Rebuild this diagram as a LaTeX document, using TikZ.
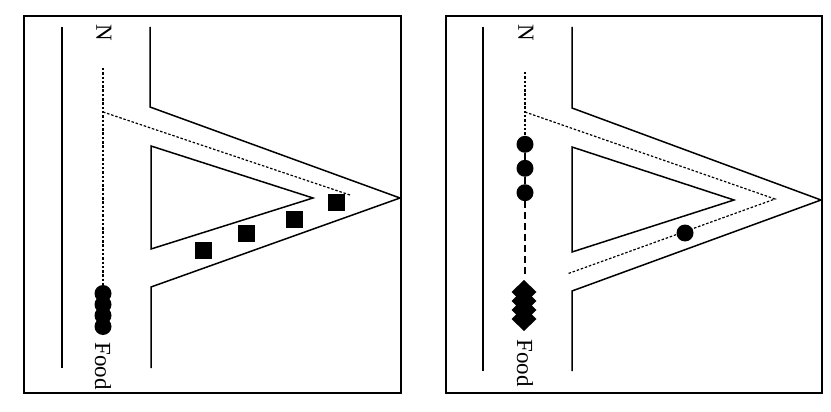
\documentclass[tikz,border=0pt]{standalone}
\usepackage{fontspec}
\setmainfont{Liberation Serif}
\usetikzlibrary{positioning}

\begin{document}
\begin{tikzpicture}[
  x=1pt,y=-1pt,
  arena/.style={draw,line width=1.8pt},
  wall/.style={draw,line width=1.5pt},
  trail/.style={draw,line width=1.2pt,dash pattern=on 2.5pt off 1.8pt},
  strongtrail/.style={draw,line width=2.8pt,dash pattern=on 7pt off 4pt},
  ant/.style={circle,fill,inner sep=0pt,minimum size=17pt},
  seeker/.style={rectangle,fill,inner sep=0pt,minimum size=17pt},
  maptext/.style={font=\fontsize{23}{25}\selectfont,rotate=-90,inner sep=0pt}
]
\useasboundingbox (0,0) rectangle (831,412);

% left panel: ants marching up the branch
\draw[arena] (24,16) rectangle (401,393);
\draw[wall] (62,27) -- (62,368);
\draw[wall] (150,27) -- (150,107) -- (400,198) -- (151,287) -- (151,368);
\draw[wall] (151,146) -- (313,198) -- (151,249) -- cycle;
\node[maptext] (nL) at (104,33) {N};
\node[maptext] (foodL) at (103,366) {Food};
\coordinate (nestL) at (103,68);
\coordinate (forkL) at (103,112);
\coordinate (tipL) at (350,195);
\foreach \i/\y in {1/293.5,2/304.5,3/315.5,4/326.5}{
  \node[ant] (aL\i) at (103,\y) {};
}
\draw[trail] (nestL) -- (aL1.north);
\draw[trail] (forkL) -- (tipL);
\foreach \i/\x/\y in {1/203/250,2/246/233,3/294/219,4/336/202}{
  \node[seeker] (sL\i) at (\x,\y) {};
}

% right panel: trail back to the food
\draw[arena] (446,16) rectangle (822,393);
\draw[wall] (483,27) -- (483,371);
\draw[wall] (572,27) -- (572,108) -- (821,200) -- (572,291) -- (572,371);
\draw[wall] (572,147) -- (734,200) -- (572,252) -- cycle;
\node[maptext] (nR) at (526,33) {N};
\node[maptext] (foodR) at (525,363) {Food};
\coordinate (nestR) at (525,72);
\coordinate (forkR) at (525,112);
\coordinate (tipR) at (775,199);
\coordinate (endR) at (567,274);
\coordinate (pileR) at (525,277);
\foreach \i/\y in {1/144.3,2/168.3,3/192.7}{
  \node[ant] (aR\i) at (525,\y) {};
}
% carriers: stacked diamonds
\foreach \i/\y in {1/292,2/301,3/310,4/319}{
  \coordinate (dR\i) at (524,\y);
  \fill (dR\i) +(0,-12) -- +(12.5,0) -- +(0,12) -- +(-12.5,0) -- cycle;
}
\node[ant] (bR) at (685,233) {};
\draw[trail] (nestR) -- (aR1.north);
\draw[trail] (forkR) -- (tipR) -- (endR);
\draw[strongtrail] (aR1) -- (aR2);
\draw[strongtrail] (aR2) -- (aR3);
\draw[strongtrail] (aR3.south) -- (pileR);
\end{tikzpicture}
\end{document}
